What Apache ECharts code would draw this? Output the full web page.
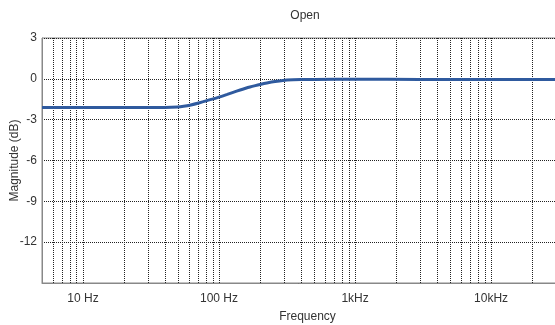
<!DOCTYPE html>
<html>
<head>
<meta charset="utf-8">
<script src="https://cdn.jsdelivr.net/npm/echarts@6/dist/echarts.min.js"></script>
<style>html,body{margin:0;padding:0;background:#fff}#c{width:555px;height:325px}</style>
</head>
<body>
<div id="c"></div>
<script>
var freqs = [5, 20, 40, 50, 55, 61, 72, 85, 100, 115, 127, 143, 155, 169, 185, 200, 225, 258, 295, 350, 400, 500, 1000, 3000, 10000, 20000, 40000];
var magnitudes = [-2.1, -2.1, -2.1, -2.07, -2.02, -1.94, -1.76, -1.55, -1.34, -1.14, -0.99, -0.82, -0.71, -0.6, -0.5, -0.42, -0.31, -0.2, -0.12, -0.07, -0.05, -0.04, -0.03, -0.04, -0.05, -0.05, -0.06];
var gridFreqs = [6, 7, 8, 9, 10, 20, 30, 40, 50, 60, 70, 80, 90, 100, 200, 300, 400, 500, 600, 700, 800, 900, 1000,
  2000, 3000, 4000, 5000, 6000, 7000, 8000, 9000, 10000, 20000, 30000];
var xLabels = {10: '10 Hz', 100: '100 Hz', 1000: '1kHz', 10000: '10kHz'};
var yTicks = [3, 0, -3, -6, -9, -12];

var font = 'Liberation Sans, Arial, sans-serif';
var chart = echarts.init(document.getElementById('c'), null, {renderer: 'canvas'});
var data = freqs.map(function (f, i) { return [f, magnitudes[i]]; });
chart.setOption({
  animation: false,
  title: {
    text: 'Open', left: 300, top: 5, textAlign: 'center',
    textStyle: {fontFamily: font, fontSize: 12, fontWeight: 'normal', color: '#333'}
  },
  grid: {left: 42, top: 38, bottom: 42, right: -18, show: true, borderColor: '#888', borderWidth: 1,
    containLabel: false, outerBoundsMode: 'none'},
  xAxis: {
    type: 'log', logBase: 10, min: 5, max: 40000,
    name: 'Frequency', nameLocation: 'middle', nameGap: 28, nameMoveOverlap: false,
    nameTextStyle: {fontFamily: font, fontSize: 12, color: '#333'},
    axisLine: {show: true, onZero: false, lineStyle: {color: '#888'}},
    axisTick: {show: false},
    splitLine: {show: false},
    axisLabel: {
      fontFamily: font, fontSize: 12, color: '#333', margin: 10,
      showMinLabel: false, showMaxLabel: false,
      formatter: function (v) { var r = Math.round(v); return xLabels[r] || ''; }
    }
  },
  yAxis: {
    type: 'value', min: -15, max: 3, interval: 3,
    name: 'Magnitude (dB)', nameLocation: 'middle', nameGap: 21, nameMoveOverlap: false,
    nameTextStyle: {fontFamily: font, fontSize: 12, color: '#333'},
    axisLine: {show: true, onZero: false, lineStyle: {color: '#888'}},
    axisTick: {show: false},
    splitLine: {show: true, lineStyle: {type: 'dotted', color: '#222', width: 1}},
    axisLabel: {
      fontFamily: font, fontSize: 12, color: '#333', margin: 5,
      formatter: function (v) { return yTicks.indexOf(v) >= 0 ? String(v) : ''; }
    }
  },
  series: [{
    type: 'line', data: data, smooth: 0.3, showSymbol: false,
    lineStyle: {color: '#2f5a9e', width: 3},
    z: 5,
    markLine: {
      silent: true, symbol: 'none', label: {show: false},
      lineStyle: {type: 'dotted', color: '#222', width: 1},
      data: gridFreqs.map(function (f) { return {xAxis: f}; }),
      z: 1
    }
  }]
});
</script>
</body>
</html>
